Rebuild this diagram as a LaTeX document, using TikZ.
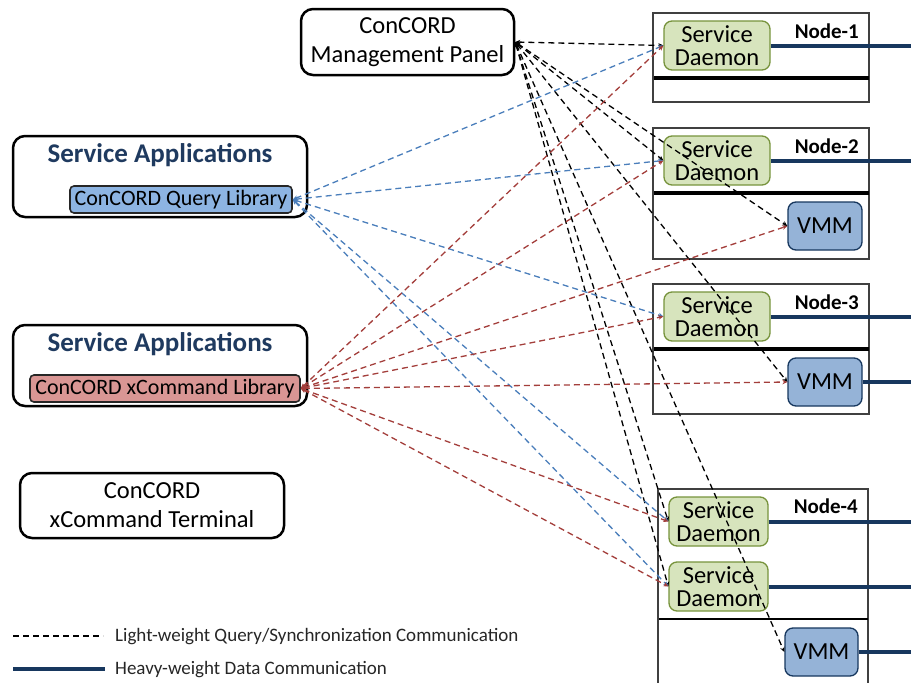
\documentclass[tikz,border=0pt]{standalone}
\usepackage{fontspec}
\setmainfont{Carlito}
\usetikzlibrary{arrows.meta}
\definecolor{navy}{HTML}{17375E}
\definecolor{titleblue}{HTML}{1F3A5F}
\definecolor{dgreen}{HTML}{D7E4BD}
\definecolor{dgreenline}{HTML}{77933C}
\definecolor{vmmfill}{HTML}{95B3D7}
\definecolor{qfill}{HTML}{8DB4E2}
\definecolor{xfill}{HTML}{D99694}
\definecolor{qblue}{HTML}{4A7EBB}
\definecolor{xred}{HTML}{A33E3B}
\definecolor{boxgray}{HTML}{404040}
\begin{document}
\begin{tikzpicture}[x=1pt,y=-1pt,
  outer/.style={draw=black, line width=2.5pt, rounded corners=12pt, fill=white,
    inner sep=0pt, align=center},
  bodytext/.style={font=\fontsize{24.5}{29}\selectfont},
  titletext/.style={font=\fontsize{27}{30}\selectfont\bfseries, text=titleblue},
  libbox/.style={draw=black!85, line width=1.6pt, rounded corners=4pt, inner sep=0pt,
    font=\fontsize{22}{24}\selectfont},
  daemon/.style={draw=dgreenline, fill=dgreen, line width=1.3pt, rounded corners=8pt,
    inner sep=0pt, align=center, minimum height=49pt,
    font=\fontsize{24.5}{23.5}\selectfont},
  vmm/.style={draw=navy, fill=vmmfill, line width=1.3pt, rounded corners=8pt,
    inner sep=0pt, minimum height=48pt, font=\fontsize{24.5}{26}\selectfont},
  hostbox/.style={draw=boxgray, line width=1.6pt},
  hostsep/.style={draw=black, line width=3.5pt},
  hostlabel/.style={anchor=east, inner sep=0pt, font=\fontsize{21}{24}\selectfont\bfseries},
  heavy/.style={draw=navy, line width=4pt},
  light/.style={line width=1.3pt, dash pattern=on 6pt off 4pt,
    {Stealth[length=5pt,width=4.5pt]}-{Stealth[length=5pt,width=4.5pt]}},
  ctl/.style={light, draw=black},
  qry/.style={light, draw=qblue},
  xcm/.style={light, draw=xred},
  legendtext/.style={anchor=west, inner sep=0pt, text=black!85,
    font=\fontsize{19}{22}\selectfont}]

\useasboundingbox (0,0) rectangle (911,683);
\coordinate (edge) at (911,0);

% ---- left side: panel, applications, terminal ----
\node[outer, bodytext, minimum width=213pt, minimum height=66pt] (panel) at (407.5,42)
  {ConCORD\\Management Panel};

\node[outer, minimum width=294pt, minimum height=81pt] (app1) at (160,176.5) {};
\node[titletext] (app1t) at (160,155) {Service Applications};
\node[libbox, fill=qfill, minimum width=222pt, minimum height=27pt] (qlib) at (181,199.5)
  {ConCORD Query Library};

\node[outer, minimum width=294pt, minimum height=81pt] (app2) at (160,365.5) {};
\node[titletext] (app2t) at (160,344) {Service Applications};
\node[libbox, fill=xfill, minimum width=270pt, minimum height=27pt] (xlib) at (165,388.5)
  {ConCORD xCommand Library};

\node[outer, bodytext, minimum width=264pt, minimum height=65pt] (term) at (152,505.5)
  {ConCORD\\xCommand Terminal};

% ---- hosts ----
% Node-1
\draw[hostbox] (653,13) rectangle (869,102);
\draw[hostsep] (654,78) -- (869,78);
\node[hostlabel] (n1) at (859,31) {Node-1};
\node[daemon, minimum width=106pt] (sd1) at (717,45.5) {Service\\Daemon};

% Node-2
\draw[hostbox] (653,128) rectangle (869,259);
\draw[hostsep] (654,193) -- (869,193);
\node[hostlabel] (n2) at (859,146) {Node-2};
\node[daemon, minimum width=106pt] (sd2) at (717,160.5) {Service\\Daemon};
\node[vmm, minimum width=74pt] (vmm2) at (825,226) {VMM};

% Node-3
\draw[hostbox] (653,284) rectangle (869,414);
\draw[hostsep] (654,349) -- (869,349);
\node[hostlabel] (n3) at (859,302) {Node-3};
\node[daemon, minimum width=106pt] (sd3) at (717,316.5) {Service\\Daemon};
\node[vmm, minimum width=74pt] (vmm3) at (825,382) {VMM};

% Node-4
\draw[hostbox] (658,700) -- (658,489) -- (868,489) -- (868,700);
\draw[draw=black, line width=2pt] (659,619) -- (868,619);
\node[hostlabel] (n4) at (858,506) {Node-4};
\node[daemon, minimum width=99pt] (sd4a) at (718.5,521.5) {Service\\Daemon};
\node[daemon, minimum width=99pt] (sd4b) at (718.5,586.5) {Service\\Daemon};
\node[vmm, minimum width=73pt] (vmm4) at (821.5,652) {VMM};

% ---- heavy-weight data links ----
\foreach \n in {sd1,sd2,sd3,vmm3,sd4a,sd4b,vmm4}
  \draw[heavy] (\n.east) -- (\n.east -| edge);

% ---- light-weight query / synchronization links ----
\foreach \n in {sd1,sd2,vmm2,vmm3,vmm4,sd4a,sd4b}
  \draw[ctl] (panel.east) -- (\n.west);
\foreach \n in {sd1,sd2,sd3,sd4a,sd4b}
  \draw[qry] (qlib.east) -- (\n.west);
\foreach \n in {sd1,sd2,vmm2,sd3,vmm3,sd4a,sd4b}
  \draw[xcm] (xlib.east) -- (\n.west);

% ---- legend ----
\coordinate (lg1a) at (13,636);
\coordinate (lg1b) at (103,636);
\coordinate (lg2a) at (13,669);
\coordinate (lg2b) at (105,669);
\draw[line width=1.3pt, dash pattern=on 6pt off 4pt] (lg1a) -- (lg1b);
\draw[heavy] (lg2a) -- (lg2b);
\node[legendtext] (lt1) at (115,637) {Light-weight Query/Synchronization Communication};
\node[legendtext] (lt2) at (115,670) {Heavy-weight Data Communication};
\end{tikzpicture}
\end{document}
